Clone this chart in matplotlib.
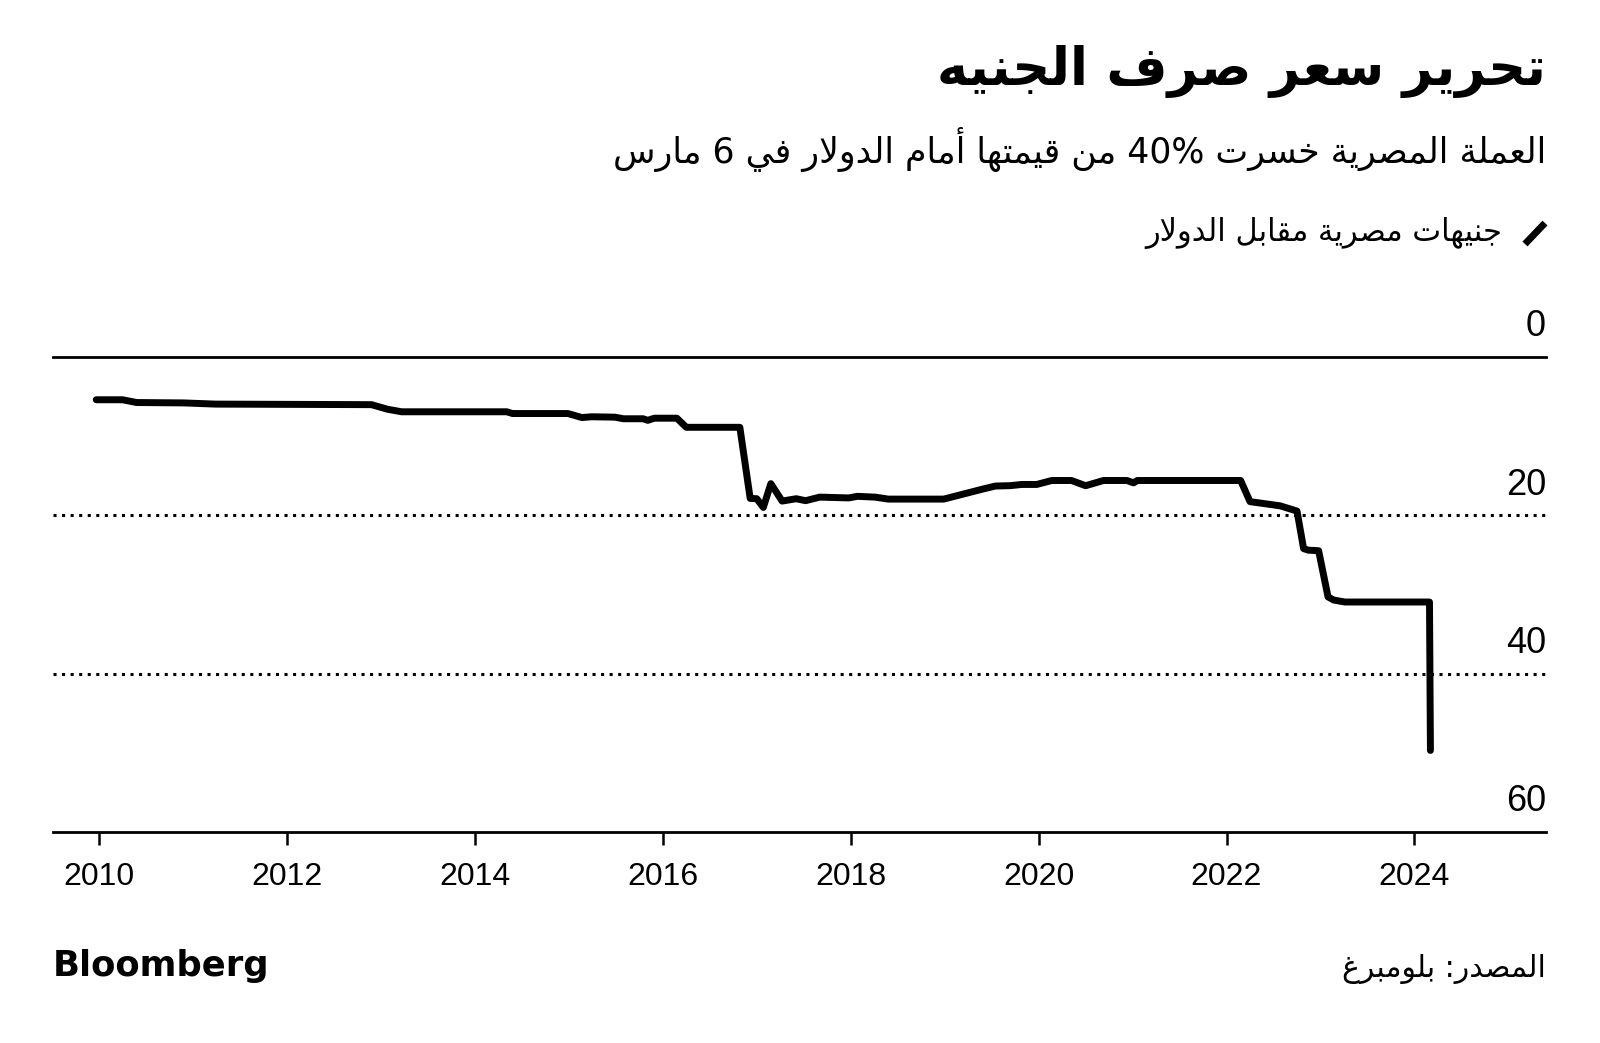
import re
import matplotlib
matplotlib.use("Agg")
import matplotlib.pyplot as plt
from matplotlib.lines import Line2D

# ---- data (EGP per USD) ----
dates = [2009.97, 2010.25, 2010.40, 2010.90, 2011.24, 2012.90, 2013.07, 2013.22,
         2014.34, 2014.40, 2014.99, 2015.14, 2015.24, 2015.49, 2015.58, 2015.79,
         2015.84, 2015.91, 2016.15, 2016.25, 2016.82, 2016.93, 2017.00, 2017.07,
         2017.15, 2017.27, 2017.42, 2017.52, 2017.67, 2017.98, 2018.07, 2018.26,
         2018.40, 2018.99, 2019.40, 2019.54, 2019.70, 2019.82, 2019.98, 2020.14,
         2020.35, 2020.50, 2020.69, 2020.94, 2021.01, 2021.05, 2022.15, 2022.25,
         2022.57, 2022.75, 2022.82, 2022.87, 2022.98, 2023.08, 2023.14, 2023.26,
         2024.16, 2024.17]
egp_usd = [5.40, 5.40, 5.75, 5.80, 5.95, 6.02, 6.60, 6.92,
           6.92, 7.14, 7.14, 7.65, 7.55, 7.60, 7.80, 7.80,
           8.00, 7.73, 7.73, 8.88, 8.88, 17.86, 17.90, 19.00,
           16.00, 18.20, 17.90, 18.15, 17.70, 17.80, 17.60, 17.70,
           17.95, 17.95, 16.70, 16.30, 16.25, 16.10, 16.10, 15.60,
           15.60, 16.26, 15.60, 15.60, 15.90, 15.60, 15.60, 18.27,
           18.80, 19.46, 24.20, 24.40, 24.47, 30.30, 30.70, 30.95,
           30.95, 49.70]

x_ticks = [2010, 2012, 2014, 2016, 2018, 2020, 2022, 2024]
y_ticks = [0, 20, 40, 60]

title = "تحرير سعر صرف الجنيه"
subtitle = "العملة المصرية خسرت 40% من قيمتها أمام الدولار في 6 مارس"
legend_label = "جنيهات مصرية مقابل الدولار"
source = "المصدر: بلومبرغ"

# ---- tiny arabic shaper (presentation forms + visual order) ----
FORMS = {
    'ا': ('\uFE8D', '\uFE8E'), 'أ': ('\uFE83', '\uFE84'),
    'ب': ('\uFE8F', '\uFE90', '\uFE91', '\uFE92'), 'ة': ('\uFE93', '\uFE94'),
    'ت': ('\uFE95', '\uFE96', '\uFE97', '\uFE98'), 'ج': ('\uFE9D', '\uFE9E', '\uFE9F', '\uFEA0'),
    'ح': ('\uFEA1', '\uFEA2', '\uFEA3', '\uFEA4'), 'خ': ('\uFEA5', '\uFEA6', '\uFEA7', '\uFEA8'),
    'د': ('\uFEA9', '\uFEAA'), 'ر': ('\uFEAD', '\uFEAE'),
    'س': ('\uFEB1', '\uFEB2', '\uFEB3', '\uFEB4'), 'ص': ('\uFEB9', '\uFEBA', '\uFEBB', '\uFEBC'),
    'ع': ('\uFEC9', '\uFECA', '\uFECB', '\uFECC'), 'غ': ('\uFECD', '\uFECE', '\uFECF', '\uFED0'),
    'ف': ('\uFED1', '\uFED2', '\uFED3', '\uFED4'), 'ق': ('\uFED5', '\uFED6', '\uFED7', '\uFED8'),
    'ل': ('\uFEDD', '\uFEDE', '\uFEDF', '\uFEE0'), 'م': ('\uFEE1', '\uFEE2', '\uFEE3', '\uFEE4'),
    'ن': ('\uFEE5', '\uFEE6', '\uFEE7', '\uFEE8'), 'ه': ('\uFEE9', '\uFEEA', '\uFEEB', '\uFEEC'),
    'و': ('\uFEED', '\uFEEE'), 'ي': ('\uFEF1', '\uFEF2', '\uFEF3', '\uFEF4'),
}
LAM_ALEF = {'ا': ('\uFEFB', '\uFEFC'), 'أ': ('\uFEF7', '\uFEF8')}


def shape(s):
    out = []
    i = 0
    while i < len(s):
        c = s[i]
        if c not in FORMS:
            out.append(c)
            i += 1
            continue
        prev = s[i - 1] if i > 0 else ''
        link_prev = prev in FORMS and len(FORMS[prev]) == 4
        if c == 'ل' and i + 1 < len(s) and s[i + 1] in LAM_ALEF:
            f = LAM_ALEF[s[i + 1]]
            out.append(f[1] if link_prev else f[0])
            i += 2
            continue
        f = FORMS[c]
        nxt = s[i + 1] if i + 1 < len(s) else ''
        link_next = len(f) == 4 and nxt in FORMS
        if link_prev and link_next:
            out.append(f[3])
        elif link_prev:
            out.append(f[1])
        elif link_next:
            out.append(f[2])
        else:
            out.append(f[0])
        i += 1
    return ''.join(out)


def rtl(s):
    parts = re.findall(r'[0-9%]+|[^0-9%]+', shape(s))
    return ''.join(p if p[0].isdigit() else p[::-1] for p in reversed(parts))


# ---- figure ----
W, H = 1600, 1043
fig = plt.figure(figsize=(W / 100, H / 100), dpi=100)
ax = fig.add_axes([53 / W, 1 - 832 / H, (1546 - 53) / W, (832 - 357) / H])

ax.plot(dates, egp_usd, color='black', lw=5, solid_capstyle='round',
        solid_joinstyle='round', zorder=3)

ax.set_xlim(2009.51, 2025.40)
ax.set_ylim(60, 0)

for s in ['top', 'left', 'right']:
    ax.spines[s].set_visible(False)
ax.spines['bottom'].set_linewidth(2.0)

ax.axhline(0, color='black', lw=2.0, clip_on=False)
for v in [20, 40]:
    ax.axhline(v, color='black', lw=2.2, linestyle=(0, (1, 1.8)))

ax.set_yticks([])
for v in y_ticks:
    ax.annotate(str(v), xy=(1.0, v), xycoords=ax.get_yaxis_transform(),
                xytext=(0, 15), textcoords='offset points', ha='right',
                va='baseline', fontsize=26, family=['Liberation Sans', 'DejaVu Sans'])

ax.set_xticks(x_ticks)
ax.set_xticklabels([str(x) for x in x_ticks])
ax.tick_params(axis='x', length=9.5, width=1.8, direction='out', pad=12,
               labelsize=23)
for lbl in ax.get_xticklabels():
    lbl.set_fontfamily(['Liberation Sans', 'DejaVu Sans'])

# ---- header / footer texts ----
fig.text(1546 / W, 1 - 71 / H, rtl(title), ha='right', va='center',
         fontsize=38, fontweight='bold', family='DejaVu Sans')
fig.text(1546 / W, 1 - 150 / H, rtl(subtitle), ha='right', va='center',
         fontsize=25, family='DejaVu Sans')
fig.text(1502 / W, 1 - 233 / H, rtl(legend_label), ha='right', va='center',
         fontsize=22, family='DejaVu Sans')
fig.add_artist(Line2D([1525 / W, 1545 / W], [1 - 244 / H, 1 - 223 / H],
                      color='black', lw=5, solid_capstyle='butt'))

fig.text(53 / W, 1 - 966 / H, 'Bloomberg', ha='left', va='center',
         fontsize=25.5, fontweight='bold', family='DejaVu Sans')
fig.text(1546 / W, 1 - 969 / H, rtl(source), ha='right', va='center',
         fontsize=21.5, family='DejaVu Sans')

fig.savefig('out.png', dpi=100, facecolor='white')
